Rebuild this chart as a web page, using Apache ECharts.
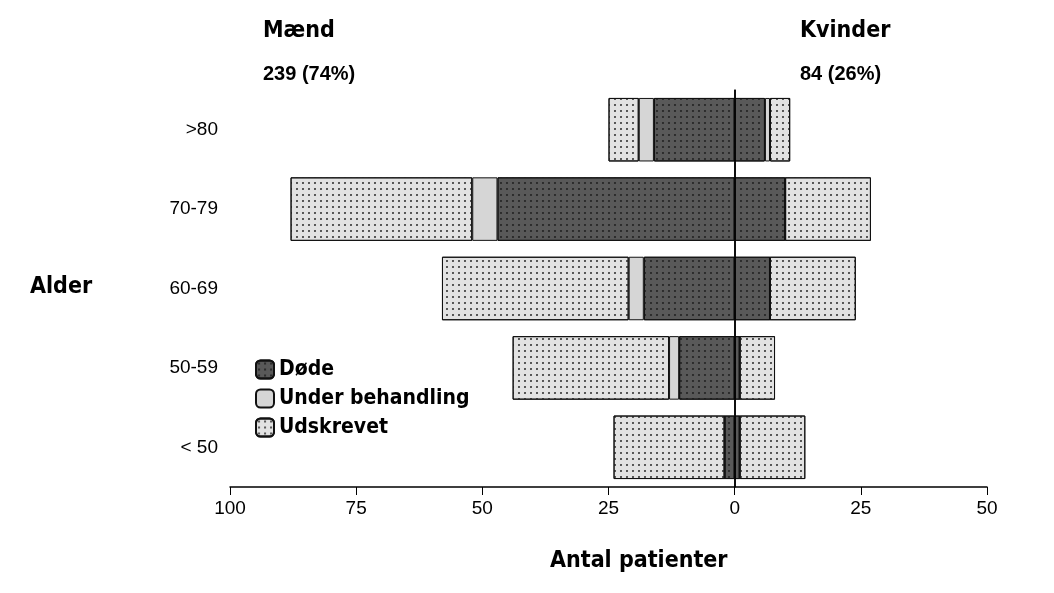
<!DOCTYPE html>
<html>
<head>
<meta charset="utf-8">
<script src="https://cdn.jsdelivr.net/npm/echarts@6/dist/echarts.min.js"></script>
<style>html,body{margin:0;background:#fff}#chart{width:1054px;height:593px}</style>
</head>
<body>
<div id="chart"></div>
<script>
var ageGroups = ["< 50", "50-59", "60-69", "70-79", ">80"];
var menDode = [2, 11, 18, 47, 16];
var menUnder = [0, 2, 3, 5, 3];
var menUdskrevet = [22, 31, 37, 36, 6];
var womenDode = [1, 1, 7, 10, 6];
var womenUnder = [0, 0, 0, 0, 1];
var womenUdskrevet = [13, 7, 17, 17, 4];
var xTicks = [-100, -75, -50, -25, 0, 25, 50];

var chart = echarts.init(document.getElementById("chart"));
var dots = { symbol: "circle", symbolSize: 0.35, color: "#333", dashArrayX: [6, 0], dashArrayY: [6, 0], rotation: 0 };
var styles = {
  "Døde": { color: "#595959", borderColor: "#111", borderWidth: 1, decal: { symbol: "circle", symbolSize: 0.35, color: "#222", dashArrayX: [6, 0], dashArrayY: [6, 0] } },
  "Under behandling": { color: "#d6d6d6", borderColor: "#111", borderWidth: 1 },
  "Udskrevet": { color: "#e2e2e2", borderColor: "#111", borderWidth: 1, decal: dots }
};
function neg(a) { return a.map(function (v) { return -v; }); }
function ser(name, data) {
  return { name: name, type: "bar", stack: "a", barWidth: "80%", data: data, itemStyle: styles[name], emphasis: { disabled: true } };
}
var series = [
  ser("Døde", neg(menDode)),
  ser("Under behandling", neg(menUnder)),
  ser("Udskrevet", neg(menUdskrevet)),
  ser("Døde", womenDode),
  ser("Under behandling", womenUnder),
  ser("Udskrevet", womenUdskrevet)
];
series[0].markLine = { silent: true, symbol: "none", label: { show: false }, lineStyle: { color: "#000", width: 1.5, type: "solid" }, data: [{ xAxis: 0 }] };

var boldFont = "'Liberation Sans Narrow', 'DejaVu Sans Condensed', sans-serif";
chart.setOption({
  animation: false,
  grid: { left: 230, right: 67, top: 90, bottom: 106 },
  legend: {
    data: ["Døde", "Under behandling", "Udskrevet"],
    orient: "vertical", left: 250, top: 354, itemGap: 8, itemWidth: 18, itemHeight: 18,
    textStyle: { fontFamily: boldFont, fontWeight: "bold", fontSize: 21, color: "#000" }
  },
  xAxis: {
    type: "value", min: -100, max: 50, interval: 25,
    splitLine: { show: false },
    axisLine: { show: true, lineStyle: { color: "#000", width: 1.5 } },
    axisTick: { show: true, length: 8, lineStyle: { color: "#000" } },
    axisLabel: { color: "#000", fontSize: 19, fontFamily: "Liberation Sans", margin: 12,
      formatter: function (v) { return Math.abs(v); } }
  },
  yAxis: {
    type: "category", data: ageGroups,
    axisLine: { show: true, lineStyle: { color: "#000", width: 1.5 } },
    axisTick: { show: true, alignWithLabel: true, length: 8, lineStyle: { color: "#000" } },
    axisLabel: { color: "#000", fontSize: 19, fontFamily: "Liberation Sans", margin: 12 }
  },
  graphic: [
    { type: "text", left: 263, top: 20, style: { text: "Mænd", font: "bold 23px " + boldFont, fill: "#000" } },
    { type: "text", left: 263, top: 64, style: { text: "239 (74%)", font: "bold 20px 'Liberation Sans'", fill: "#000" } },
    { type: "text", left: 800, top: 20, style: { text: "Kvinder", font: "bold 23px " + boldFont, fill: "#000" } },
    { type: "text", left: 800, top: 64, style: { text: "84 (26%)", font: "bold 20px 'Liberation Sans'", fill: "#000" } },
    { type: "text", left: 30, top: 276, style: { text: "Alder", font: "bold 23px " + boldFont, fill: "#000" } },
    { type: "text", left: 550, top: 550, style: { text: "Antal patienter", font: "bold 23px " + boldFont, fill: "#000" } }
  ],
  series: series
});
</script>
</body>
</html>
